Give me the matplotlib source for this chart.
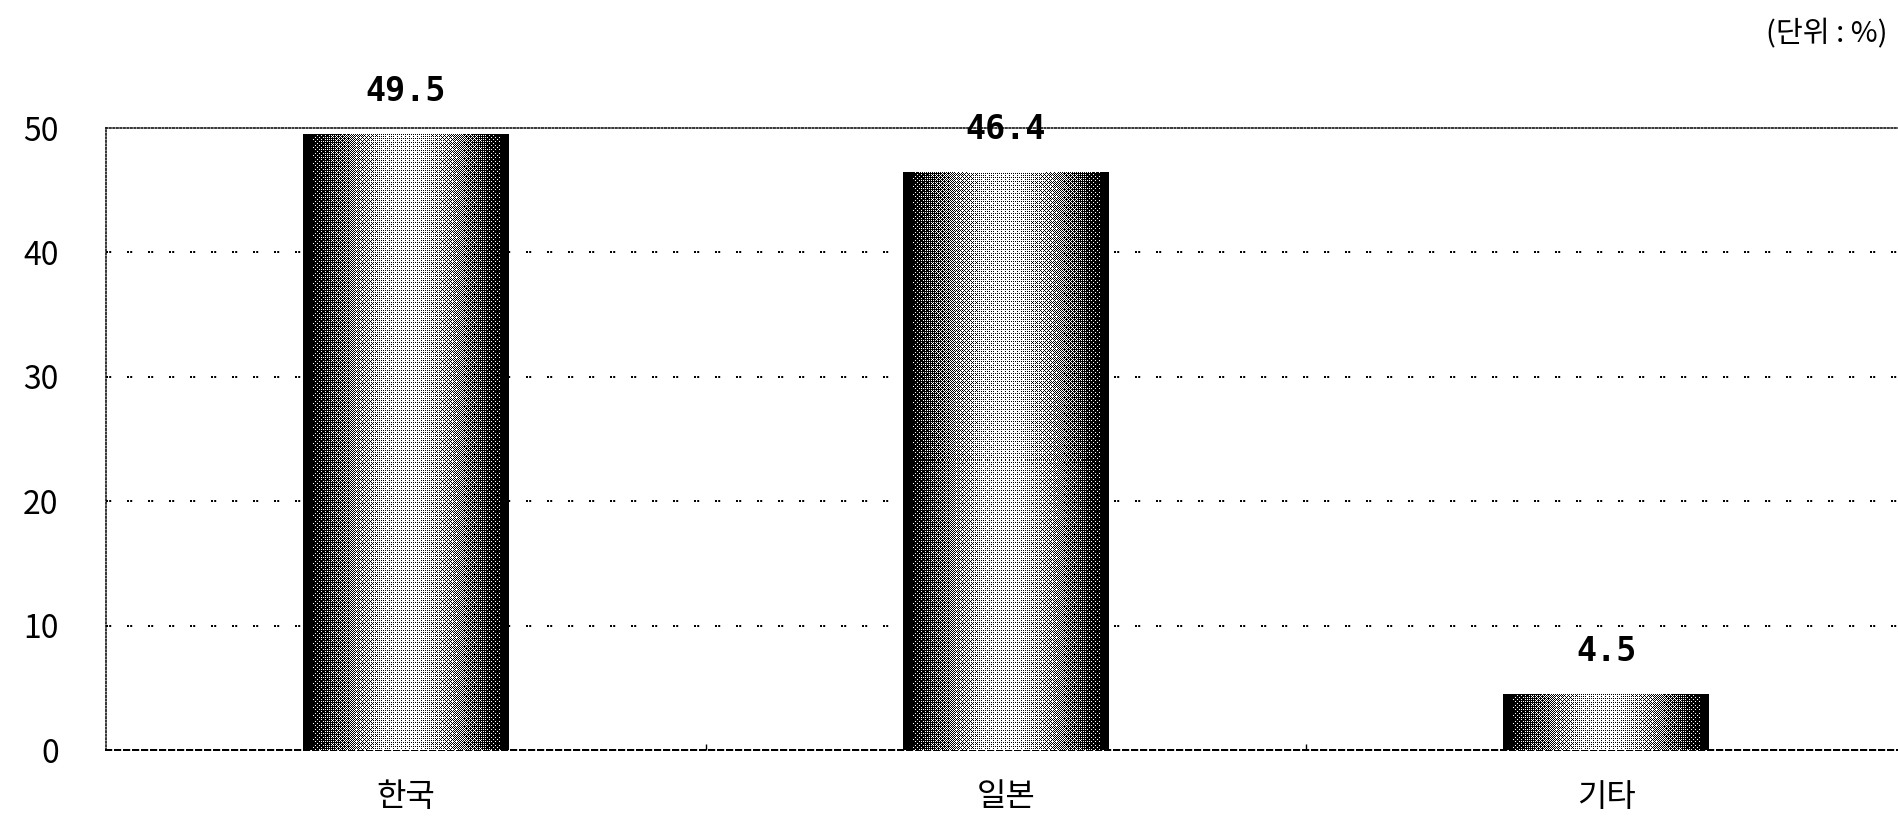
import numpy as np
import matplotlib
matplotlib.use("Agg")
import matplotlib.pyplot as plt

plt.rcParams['font.family'] = ['Noto Sans CJK KR', 'DejaVu Sans']

# Share by country (%)
categories = ["한국", "일본", "기타"]
values = [49.5, 46.4, 4.5]
y_ticks = [0, 10, 20, 30, 40, 50]
unit_label = "(단위 : %)"

W, H, DPI = 1899, 825, 100
fig = plt.figure(figsize=(W / DPI, H / DPI), dpi=DPI)
fig.patch.set_facecolor("white")
ax = fig.add_axes([0.0558, 0.0909, 0.948, 0.7539])

x = np.arange(len(categories))
ax.set_xlim(-0.5, len(categories) - 0.5)
ax.set_ylim(0, 50)

bars = ax.bar(x, values, width=0.343, facecolor="none", edgecolor="none", zorder=3)

# Ordered (Bayer 8x8) dither of a dark-edge / light-centre gradient
b2 = np.array([[0, 2], [3, 1]])
b4 = np.block([[4 * b2, 4 * b2 + 2], [4 * b2 + 3, 4 * b2 + 1]])
b8 = np.block([[4 * b4, 4 * b4 + 2], [4 * b4 + 3, 4 * b4 + 1]])
bayer = (b8 + 0.5) / 64.0


def dithered_fill(px_w, px_h):
    u = (np.arange(px_w) + 0.5) / px_w
    shade = 0.82 * np.sin(np.pi * u) ** 1.3
    shade[(u < 0.05) | (u > 0.96)] = 0.0
    grad = np.tile(shade, (px_h, 1))
    thr = np.tile(bayer, (px_h // 8 + 1, px_w // 8 + 1))[:px_h, :px_w]
    return (grad > thr).astype(float)


for b in bars:
    x0, y0 = b.get_x(), b.get_y()
    x1, y1 = x0 + b.get_width(), y0 + b.get_height()
    (p0x, p0y), (p1x, p1y) = ax.transData.transform([(x0, y0), (x1, y1)])
    pw, ph = max(int(round(p1x - p0x)), 4), max(int(round(p1y - p0y)), 4)
    img = dithered_fill(pw, ph)
    ax.imshow(img, extent=(x0, x1, y0, y1), origin="lower", cmap="gray",
              vmin=0, vmax=1, interpolation="nearest", aspect="auto", zorder=3)

ax.set_xlim(-0.5, len(categories) - 0.5)
ax.set_ylim(0, 50)

# Value labels
for xi, v in zip(x, values):
    ax.annotate(f"{v:.1f}", (xi, v), xytext=(0, 19), textcoords="offset points",
                ha="center", va="bottom", fontsize=24, fontweight="bold",
                family=["DejaVu Sans Mono", "DejaVu Sans"], zorder=5)

LW = 1.44  # 2 px dots
# Grid lines (pairs of dots)
for t in y_ticks[1:-1]:
    ax.axhline(t, color="black", lw=LW, linestyle=(0, (1, 0.6, 1, 7.9)), zorder=2)

# Frame: fine dotted left/top, paired dots along the baseline
for side in ["left", "top"]:
    ax.spines[side].set_linestyle((0, (1, 1.3)))
    ax.spines[side].set_linewidth(1.1)
ax.spines["bottom"].set_linestyle((0, (1, 0.6, 1, 1.9)))
ax.spines["bottom"].set_linewidth(LW)
ax.spines["right"].set_visible(False)
for s in ax.spines.values():
    s.set_zorder(2)

ax.set_yticks(y_ticks)
ax.set_yticklabels([str(t) for t in y_ticks])
ax.tick_params(axis="y", length=0, pad=34, labelsize=23)
ax.set_xticks(x)
ax.set_xticklabels(categories)
ax.tick_params(axis="x", length=0, pad=22, labelsize=23)
ax.set_xticks(x[:-1] + 0.5, minor=True)
ax.tick_params(axis="x", which="minor", direction="in", length=4, width=1.0)

fig.text(0.994, 0.958, unit_label, ha="right", va="center", fontsize=21)

fig.savefig("out.png", dpi=DPI, facecolor="white")
